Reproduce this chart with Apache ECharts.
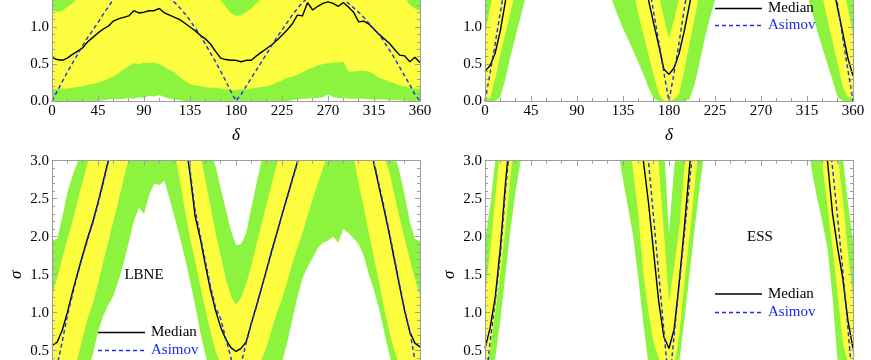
<!DOCTYPE html>
<html><head><meta charset="utf-8">
<script src="https://cdn.jsdelivr.net/npm/echarts@6/dist/echarts.min.js"></script>
<style>html,body{margin:0;padding:0;background:#fff}#c{width:871px;height:360px}</style>
</head><body><div id="c"></div>
<script>
// ---------- data ----------
const deltas = [0,5,10,15,20,25,30,35,40,45,50,55,60,65,70,75,80,85,90,95,100,105,110,115,120,125,130,135,140,145,150,155,160,165,170,175,180,185,190,195,200,205,210,215,220,225,230,235,240,245,250,255,260,265,270,275,280,285,290,295,300,305,310,315,320,325,330,335,340,345,350,355,360];
const deltaTicks = [0,45,90,135,180,225,270,315,360];
const sigmaTicks = [0,0.5,1,1.5,2,2.5,3];

// top-left panel
const tlGreenHigh = [1.90,1.95,2.00,2.10,2.20,2.30,2.40,2.50,2.60,2.70,2.70,2.70,
 2.70,2.70,2.70,2.70,2.70,2.70,2.70,2.70,2.70,2.70,2.70,2.70,
 2.70,2.70,2.70,2.70,2.60,2.50,2.40,2.30,2.20,2.10,2.00,1.90,
 1.85,1.90,2.00,2.10,2.20,2.30,2.40,2.50,2.60,2.70,2.70,2.70,
 2.70,2.70,2.70,2.70,2.70,2.70,2.70,2.70,2.70,2.70,2.70,2.70,
 2.70,2.70,2.60,2.50,2.40,2.30,2.20,2.10,2.00,1.95,1.90,1.90,
 1.90];
const tlYellowHigh = [1.23,1.20,1.22,1.27,1.32,1.38,1.48,1.58,1.68,1.75,1.80,1.85,
 1.90,1.90,1.90,1.90,1.90,1.90,1.90,1.90,1.90,1.90,1.85,1.80,
 1.75,1.70,1.65,1.60,1.55,1.50,1.46,1.44,1.42,1.36,1.27,1.19,
 1.15,1.16,1.20,1.25,1.32,1.38,1.45,1.50,1.55,1.60,1.65,1.70,
 1.75,1.80,1.85,1.90,1.90,1.90,1.90,1.90,1.90,1.90,1.90,1.90,
 1.90,1.85,1.80,1.70,1.62,1.55,1.50,1.46,1.43,1.40,1.30,1.25,
 1.22];
const tlMedian = [0.59,0.56,0.55,0.58,0.63,0.67,0.72,0.80,0.86,0.92,0.97,1.01,
 1.08,1.11,1.13,1.15,1.22,1.19,1.20,1.22,1.22,1.25,1.19,1.16,
 1.13,1.10,1.05,1.00,0.95,0.89,0.84,0.77,0.67,0.58,0.56,0.55,
 0.55,0.53,0.55,0.55,0.61,0.66,0.71,0.76,0.82,0.89,0.96,1.04,
 1.16,1.15,1.33,1.23,1.28,1.32,1.34,1.32,1.28,1.33,1.27,1.20,
 1.07,1.08,1.04,0.97,0.90,0.84,0.78,0.70,0.62,0.61,0.53,0.59,
 0.52];
const tlAsimov = [0.00,0.13,0.26,0.39,0.51,0.63,0.75,0.86,0.96,1.06,1.17,1.27,
 1.37,1.45,1.50,1.54,1.56,1.57,1.57,1.56,1.54,1.50,1.45,1.38,
 1.33,1.26,1.18,1.09,0.99,0.89,0.77,0.65,0.53,0.40,0.27,0.13,
 0.00,0.09,0.20,0.31,0.42,0.53,0.64,0.75,0.86,0.96,1.06,1.16,
 1.25,1.33,1.39,1.43,1.46,1.47,1.47,1.46,1.42,1.38,1.32,1.26,
 1.20,1.13,1.05,0.97,0.90,0.80,0.69,0.58,0.46,0.34,0.22,0.09,
 0.00];
const tlYellowLow = [0.16,0.16,0.17,0.17,0.18,0.19,0.20,0.22,0.23,0.25,0.27,0.30,
 0.33,0.37,0.43,0.47,0.51,0.50,0.52,0.51,0.52,0.50,0.46,0.42,
 0.39,0.32,0.27,0.23,0.21,0.20,0.19,0.18,0.18,0.17,0.16,0.15,
 0.15,0.16,0.16,0.17,0.18,0.19,0.20,0.22,0.25,0.28,0.31,0.33,
 0.35,0.39,0.43,0.45,0.48,0.50,0.51,0.52,0.52,0.53,0.40,0.40,
 0.41,0.41,0.40,0.36,0.31,0.29,0.26,0.24,0.21,0.20,0.18,0.17,
 0.17];
const tlGreenLow = [0,0,0,0,0,0,0,0,0,0.005,0.01,0.02,
 0.03,0.02,0.03,0.04,0.03,0.05,0.04,0.07,0.06,0.08,0.05,0.03,
 0.02,0.01,0,0,0,0,0,0,0,0,0,0,
 0,0,0,0,0,0,0,0,0,0,0,0.01,
 0.02,0.03,0.03,0.04,0.04,0.05,0.09,0.05,0.04,0.04,0.03,0.03,
 0.03,0.03,0.02,0.02,0.02,0.02,0.015,0.01,0.01,0.005,0,0,
 0];

// top-right panel
const trGreenHigh = [2.0,2.4,2.8,3.2,3.6,4.0,4.5,4.5,4.5,4.5,4.5,4.5,
 4.5,4.5,4.5,4.5,4.5,4.5,4.5,4.5,4.5,4.5,4.5,4.5,
 4.5,4.5,4.5,4.5,4.5,4.5,4.5,4.0,3.5,3.0,2.6,2.3,
 2.2,2.3,2.6,3.0,3.5,4.0,4.5,4.5,4.5,4.5,4.5,4.5,
 4.5,4.5,4.5,4.5,4.5,4.5,4.5,4.5,4.5,4.5,4.5,4.5,
 4.5,4.5,4.5,4.5,4.5,4.5,4.5,4.0,3.6,3.2,2.8,2.4,
 2.0];
const trYellowHigh = [0.90,1.25,1.60,2.00,2.40,2.80,3.20,3.60,3.90,3.90,3.90,3.90,
 3.90,3.90,3.90,3.90,3.90,3.90,3.90,3.90,3.90,3.90,3.90,3.90,
 3.90,3.90,3.90,3.90,3.90,3.60,3.00,2.30,1.90,1.60,1.42,1.12,
 0.85,1.10,1.40,1.70,2.00,2.40,2.80,3.20,3.60,3.90,3.90,3.90,
 3.90,3.90,3.90,3.90,3.90,3.90,3.90,3.90,3.90,3.90,3.90,3.90,
 3.90,3.90,3.90,3.90,3.90,3.60,3.20,2.80,2.40,2.00,1.60,1.25,
 0.90];
const trMedian = [0.40,0.48,0.65,0.95,1.35,1.80,2.20,2.60,3.00,3.30,3.50,3.50,
 3.50,3.50,3.50,3.50,3.50,3.50,3.50,3.50,3.50,3.50,3.50,3.50,
 3.50,3.40,3.20,2.90,2.60,2.30,2.00,1.70,1.36,1.05,0.75,0.43,
 0.36,0.45,0.65,0.95,1.30,1.65,2.00,2.40,2.80,3.10,3.40,3.50,
 3.50,3.50,3.50,3.50,3.50,3.50,3.50,3.50,3.50,3.50,3.50,3.50,
 3.50,3.45,3.30,3.20,3.00,2.60,2.20,1.90,1.60,1.25,0.92,0.58,
 0.34];
const trAsimov = [0.00,0.38,0.78,1.20,1.60,2.00,2.40,2.70,3.00,3.20,3.30,3.40,
 3.40,3.40,3.40,3.40,3.40,3.40,3.40,3.40,3.40,3.40,3.40,3.40,
 3.40,3.30,3.20,3.10,3.00,2.60,2.30,2.00,1.60,1.20,0.80,0.38,
 0.00,0.38,0.80,1.25,1.65,2.05,2.40,2.80,3.10,3.30,3.40,3.40,
 3.40,3.40,3.40,3.40,3.40,3.40,3.40,3.40,3.40,3.40,3.40,3.40,
 3.40,3.30,3.20,3.00,2.90,2.70,2.35,2.00,1.65,1.30,0.85,0.42,
 0.00];
const trYellowLow = [0.05,0.03,0.30,0.62,0.92,1.20,1.50,1.80,2.10,2.50,2.50,2.50,
 2.50,2.50,2.50,2.50,2.50,2.50,2.50,2.50,2.50,2.50,2.50,2.50,
 2.50,2.50,2.50,2.50,1.80,1.50,1.18,0.90,0.62,0.34,0.10,0.00,
 0.00,0.02,0.10,0.42,0.77,1.12,1.45,1.80,2.50,2.50,2.50,2.50,
 2.50,2.50,2.50,2.50,2.50,2.50,2.50,2.50,2.50,2.50,2.50,2.50,
 2.50,2.50,2.50,2.50,2.50,1.70,1.42,1.10,0.80,0.50,0.20,0.05,
 0.05];
const trGreenLow = [0,0,0,0.05,0.30,0.60,0.88,1.15,1.42,1.70,1.95,2.10,
 2.20,2.20,2.20,2.20,2.20,2.20,2.20,2.20,2.20,2.10,1.95,1.80,
 1.55,1.33,1.15,0.98,0.83,0.68,0.52,0.36,0.18,0.03,0,0,
 0,0,0,0,0.02,0.22,0.52,0.85,1.12,1.36,1.60,1.85,
 2.00,2.20,2.20,2.20,2.20,2.20,2.20,2.20,2.20,2.20,2.20,2.10,
 2.00,1.90,1.70,1.45,1.20,0.95,0.72,0.50,0.28,0.05,0,0,
 0];

// bottom-left panel (LBNE)
const blGreenHigh = [1.95,1.97,2.25,2.58,2.80,2.98,3.20,3.40,3.60,3.80,4.50,4.50,
 4.50,4.50,4.50,4.50,4.50,4.50,4.50,4.50,4.50,4.50,4.50,4.50,
 4.50,4.50,4.50,4.00,3.70,3.40,3.20,3.10,2.93,2.64,2.36,2.08,
 1.89,1.90,2.05,2.38,2.70,3.00,3.30,3.60,3.80,4.50,4.50,4.50,
 4.50,4.50,4.50,4.50,4.50,4.50,4.50,4.50,4.50,4.50,4.50,4.50,
 4.50,4.50,4.50,4.50,4.00,3.60,3.30,3.10,2.85,2.55,2.20,1.97,
 1.94];
const blYellowHigh = [1.22,1.45,1.72,1.96,2.20,2.47,2.73,2.98,3.20,3.40,3.60,3.80,
 4.20,4.20,4.20,4.20,4.20,4.20,4.20,4.20,4.20,4.20,4.20,4.20,
 4.20,4.20,3.80,3.50,3.30,3.10,2.75,2.40,2.05,1.75,1.45,1.22,
 1.10,1.20,1.38,1.62,1.90,2.17,2.43,2.70,2.95,3.20,3.40,3.60,
 3.80,4.20,4.20,4.20,4.20,4.20,4.20,4.20,4.20,4.20,4.20,4.20,
 4.20,4.20,4.20,3.80,3.40,3.05,2.85,2.55,2.25,1.98,1.70,1.45,
 1.22];
const blMedian = [0.57,0.61,0.77,1.00,1.27,1.52,1.76,1.99,2.20,2.45,2.72,3.00,
 3.30,3.55,3.75,3.90,4.00,4.05,4.10,4.10,4.05,4.00,3.90,3.75,
 3.55,3.40,3.30,2.83,2.27,1.98,1.63,1.30,1.03,0.81,0.65,0.54,
 0.49,0.53,0.62,0.86,1.09,1.33,1.57,1.82,2.05,2.29,2.52,2.75,
 2.98,3.20,3.40,3.60,3.75,3.85,3.90,3.90,3.85,3.75,3.60,3.45,
 3.35,3.30,3.27,2.96,2.65,2.35,2.03,1.69,1.35,1.02,0.75,0.60,
 0.55];
const blAsimov = [0.00,0.30,0.62,0.96,1.24,1.50,1.74,1.97,2.18,2.43,2.70,2.98,
 3.28,3.55,3.75,3.90,4.00,4.05,4.10,4.10,4.05,4.00,3.90,3.75,
 3.58,3.45,3.35,2.88,2.35,2.02,1.68,1.35,1.07,0.92,0.66,0.41,
 0.00,0.33,0.60,0.86,1.08,1.32,1.56,1.80,2.04,2.28,2.51,2.74,
 2.97,3.20,3.40,3.60,3.75,3.85,3.90,3.90,3.85,3.75,3.60,3.45,
 3.35,3.32,3.30,2.99,2.68,2.38,2.06,1.72,1.37,1.04,0.76,0.38,
 0.00];
const blYellowLow = [0.10,0.10,0.10,0.10,0.15,0.40,0.67,0.93,1.13,1.38,1.66,1.93,
 2.20,2.47,2.75,3.02,3.30,3.50,3.60,3.60,3.60,3.60,3.60,3.40,
 3.12,2.75,2.35,1.98,1.68,1.35,1.05,0.75,0.50,0.32,0.20,0.10,
 0.05,0.08,0.12,0.15,0.20,0.38,0.55,0.78,1.00,1.18,1.40,1.65,
 1.85,2.05,2.28,2.50,2.70,2.90,3.10,3.30,3.40,3.45,3.30,3.05,
 2.70,2.38,2.05,1.72,1.40,1.05,0.75,0.50,0.30,0.20,0.10,0.10,
 0.10];
const blGreenLow = [0,0,0,0,0.05,0.10,0.15,0.25,0.45,0.75,0.95,1.10,
 1.22,1.42,1.65,1.92,2.20,2.38,2.30,2.55,2.70,2.68,2.74,2.50,
 2.25,2.00,1.72,1.42,1.10,0.75,0.45,0.20,0.05,0,0,0,
 0,0,0,0,0,0,0,0.05,0.15,0.35,0.60,0.90,
 1.20,1.45,1.60,1.72,1.85,1.92,1.95,2.00,1.92,2.10,2.05,1.98,
 1.90,1.75,1.50,1.30,1.05,0.75,0.45,0.20,0.05,0,0,0,
 0];

// bottom-right panel (ESS)
const brGreenHigh = [1.95,2.40,3.00,3.60,4.00,4.60,4.60,4.60,4.60,4.60,4.60,4.60,
 4.60,4.60,4.60,4.60,4.60,4.60,4.60,4.60,4.60,4.60,4.60,4.60,
 4.60,4.60,4.60,4.60,4.60,4.60,4.60,4.60,4.60,4.00,3.50,3.20,
 2.05,2.90,3.50,3.80,4.00,4.60,4.60,4.60,4.60,4.60,4.60,4.60,
 4.60,4.60,4.60,4.60,4.60,4.60,4.60,4.60,4.60,4.60,4.60,4.60,
 4.60,4.60,4.60,4.60,4.60,4.60,4.60,4.60,4.00,3.60,3.05,2.45,
 1.95];
const brYellowHigh = [1.20,1.80,2.50,3.20,3.80,4.30,4.30,4.30,4.30,4.30,4.30,4.30,
 4.30,4.30,4.30,4.30,4.30,4.30,4.30,4.30,4.30,4.30,4.30,4.30,
 4.30,4.30,4.30,4.30,4.30,4.30,4.30,4.30,4.10,3.40,2.95,2.05,
 1.15,1.60,2.10,2.90,3.50,4.00,4.30,4.30,4.30,4.30,4.30,4.30,
 4.30,4.30,4.30,4.30,4.30,4.30,4.30,4.30,4.30,4.30,4.30,4.30,
 4.30,4.30,4.30,4.30,4.30,4.30,4.30,3.80,3.40,3.05,2.50,1.80,
 1.20];
const brMedian = [0.53,0.80,1.20,1.85,2.70,3.40,3.90,4.00,4.00,4.00,4.00,4.00,
 4.00,4.00,4.00,4.00,4.00,4.00,4.00,4.00,4.00,4.00,4.00,4.00,
 4.00,4.00,4.00,4.00,4.00,4.00,3.60,2.99,2.44,1.79,1.14,0.68,
 0.53,0.78,1.40,2.12,2.90,3.60,3.90,4.00,4.00,4.00,4.00,4.00,
 4.00,4.00,4.00,4.00,4.00,4.00,4.00,4.00,4.00,4.00,4.00,4.00,
 4.00,4.00,4.00,4.00,4.00,3.80,3.40,3.00,2.30,1.85,1.45,0.90,
 0.53];
const brAsimov = [0.00,0.62,1.15,1.75,2.60,3.30,3.90,4.00,4.00,4.00,4.00,4.00,
 4.00,4.00,4.00,4.00,4.00,4.00,4.00,4.00,4.00,4.00,4.00,4.00,
 4.00,4.00,4.00,4.00,4.00,4.00,4.00,3.70,2.98,2.24,1.50,0.77,
 0.00,0.70,1.37,2.03,2.70,3.37,3.90,4.00,4.00,4.00,4.00,4.00,
 4.00,4.00,4.00,4.00,4.00,4.00,4.00,4.00,4.00,4.00,4.00,4.00,
 4.00,4.00,4.00,4.00,4.00,4.00,3.80,3.50,2.90,2.25,1.55,0.80,
 0.00];
const brYellowLow = [0.30,0.50,1.00,1.50,2.10,2.80,3.50,3.70,3.70,3.70,3.70,3.70,
 3.70,3.70,3.70,3.70,3.70,3.70,3.70,3.70,3.70,3.70,3.70,3.70,
 3.70,3.70,3.70,3.70,3.40,2.85,2.30,1.50,1.00,0.60,0.40,0.20,
 0.10,0.30,0.70,1.40,2.00,2.65,3.30,3.70,3.70,3.70,3.70,3.70,
 3.70,3.70,3.70,3.70,3.70,3.70,3.70,3.70,3.70,3.70,3.70,3.70,
 3.70,3.70,3.70,3.70,3.70,3.40,2.95,2.40,1.85,1.25,0.60,0.35,
 0.30];
const brGreenLow = [0.10,0.20,0.40,0.90,1.50,2.10,2.60,3.00,3.40,3.50,3.50,3.50,
 3.50,3.50,3.50,3.50,3.50,3.50,3.50,3.50,3.50,3.50,3.50,3.50,
 3.50,3.50,3.15,2.75,2.38,2.00,1.45,0.85,0.30,0.10,0,0,
 0,0,0.35,0.90,1.50,2.10,2.65,3.15,3.50,3.50,3.50,3.50,
 3.50,3.50,3.50,3.50,3.50,3.50,3.50,3.50,3.50,3.50,3.50,3.50,
 3.50,3.50,3.50,3.25,2.85,2.50,2.20,1.85,1.20,0.35,0.10,0.05,
 0.10];

// ---------- chart ----------
const GREEN = '#8cf43e', YELLOW = '#fdfd40', FRAME = '#9d9d9d', BLUE = '#1d2ce6';
const FONT = "'Liberation Serif','Times New Roman',Times,serif";

const all = {tlGreenHigh,tlYellowHigh,tlMedian,tlAsimov,tlYellowLow,tlGreenLow,
 trGreenHigh,trYellowHigh,trMedian,trAsimov,trYellowLow,trGreenLow,
 blGreenHigh,blYellowHigh,blMedian,blAsimov,blYellowLow,blGreenLow,
 brGreenHigh,brYellowHigh,brMedian,brAsimov,brYellowLow,brGreenLow};
for (const k in all) if (all[k].length !== deltas.length) throw new Error(k + ' has ' + all[k].length);

const panels = [
  {gh:tlGreenHigh, yh:tlYellowHigh, yl:tlYellowLow, gl:tlGreenLow, med:tlMedian, asi:tlAsimov,
   grid:{left:52, top:-121, width:368, height:222}, xName:'δ', yName:''},
  {gh:trGreenHigh, yh:trYellowHigh, yl:trYellowLow, gl:trGreenLow, med:trMedian, asi:trAsimov,
   grid:{left:485, top:-121, width:368, height:222}, xName:'δ', yName:''},
  {gh:blGreenHigh, yh:blYellowHigh, yl:blYellowLow, gl:blGreenLow, med:blMedian, asi:blAsimov,
   grid:{left:52, top:160.7, width:368, height:228}, xName:'', yName:'σ'},
  {gh:brGreenHigh, yh:brYellowHigh, yl:brYellowLow, gl:brGreenLow, med:brMedian, asi:brAsimov,
   grid:{left:485, top:160.7, width:368, height:228}, xName:'', yName:'σ'}
];

const pts = arr => deltas.map((d, k) => [d, arr[k]]);
const grids = [], xAxes = [], yAxes = [], series = [];

const lineCommon = () => ({
  type:'value', z:10,
  axisLine:{show:true, onZero:false, lineStyle:{color:FRAME, width:1}},
  axisTick:{show:true, inside:true, length:5, lineStyle:{color:FRAME, width:1}},
  splitLine:{show:false}, minorSplitLine:{show:false}
});

panels.forEach((p, i) => {
  grids.push(Object.assign({containLabel:false, outerBoundsMode:'none'}, p.grid));
  const xBase = Object.assign(lineCommon(), {
    gridIndex:i, min:deltaTicks[0], max:deltaTicks[deltaTicks.length-1], interval:deltaTicks[1]-deltaTicks[0],
    minorTick:{show:true, splitNumber:3, length:3, lineStyle:{color:FRAME, width:1}}
  });
  xAxes.push(Object.assign({}, xBase, {
    position:'bottom',
    axisLabel:{show:true, margin:3, color:'#000', fontFamily:FONT, fontSize:15},
    name:p.xName, nameLocation:'middle', nameGap:26,
    nameTextStyle:{fontFamily:FONT, fontStyle:'italic', fontSize:17, color:'#000'}
  }));
  xAxes.push(Object.assign({}, xBase, {position:'top', axisLabel:{show:false}}));
  const yBase = Object.assign(lineCommon(), {
    gridIndex:i, min:sigmaTicks[0], max:sigmaTicks[sigmaTicks.length-1], interval:sigmaTicks[1]-sigmaTicks[0],
    minorTick:{show:true, splitNumber:5, length:3, lineStyle:{color:FRAME, width:1}}
  });
  yAxes.push(Object.assign({}, yBase, {
    position:'left',
    axisLabel:{show:true, margin:3, color:'#000', fontFamily:FONT, fontSize:15, formatter:v => v.toFixed(1)},
    name:p.yName, nameLocation:'middle', nameGap:27,
    nameTextStyle:{fontFamily:FONT, fontStyle:'italic', fontSize:17, color:'#000'}
  }));
  yAxes.push(Object.assign({}, yBase, {position:'right', axisLabel:{show:false}}));

  const xi = 2*i, yi = 2*i;
  const band = (arr, color) => ({
    type:'line', xAxisIndex:xi, yAxisIndex:yi, data:pts(arr), symbol:'none', showSymbol:false,
    lineStyle:{width:0, opacity:0}, areaStyle:{color:color, opacity:1, origin:'start'},
    silent:true, z:1, clip:true, animation:false
  });
  series.push(band(p.gh, GREEN));
  series.push(band(p.yh, YELLOW));
  series.push(band(p.yl, GREEN));
  series.push(band(p.gl, '#ffffff'));
  series.push({name:'Median', type:'line', xAxisIndex:xi, yAxisIndex:yi, data:pts(p.med), symbol:'none',
    lineStyle:{color:'#000', width:1.4}, z:3, clip:true, silent:true, animation:false});
  series.push({name:'Asimov', type:'line', xAxisIndex:xi, yAxisIndex:yi, data:pts(p.asi), symbol:'none',
    lineStyle:{color:BLUE, width:1.4, type:[4,3]}, z:4, clip:true, silent:true, animation:false});
});

function legendGraphic(x, y, gap) {
  return [
    {type:'line', z:20, shape:{x1:x, y1:y, x2:x+47, y2:y}, style:{stroke:'#000', lineWidth:1.4}},
    {type:'text', z:20, x:x+53, y:y, style:{text:'Median', fill:'#000', font:'15px ' + FONT, verticalAlign:'middle', align:'left'}},
    {type:'line', z:20, shape:{x1:x, y1:y+gap, x2:x+47, y2:y+gap}, style:{stroke:BLUE, lineWidth:1.4, lineDash:[4,3]}},
    {type:'text', z:20, x:x+53, y:y+gap, style:{text:'Asimov', fill:BLUE, font:'15px ' + FONT, verticalAlign:'middle', align:'left'}}
  ];
}

const graphic = [].concat(
  legendGraphic(715, 8.5, 17),
  legendGraphic(98, 332.5, 18),
  legendGraphic(715, 294, 18.5),
  [
    {type:'text', z:20, x:144, y:275, style:{text:'LBNE', fill:'#000', font:'15px ' + FONT, align:'center', verticalAlign:'middle'}},
    {type:'text', z:20, x:760, y:237, style:{text:'ESS', fill:'#000', font:'15px ' + FONT, align:'center', verticalAlign:'middle'}}
  ]
);

const chart = echarts.init(document.getElementById('c'), null, {renderer:'canvas'});
chart.setOption({
  animation:false,
  backgroundColor:'#ffffff',
  grid:grids, xAxis:xAxes, yAxis:yAxes, series:series, graphic:graphic
});
</script></body></html>
